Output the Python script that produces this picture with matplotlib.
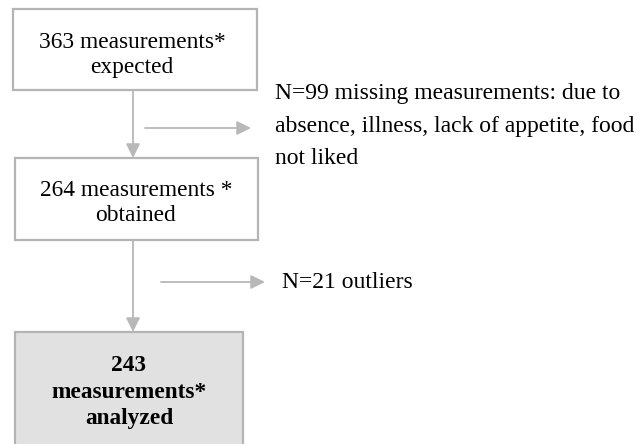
import matplotlib.pyplot as plt
from matplotlib.patches import Rectangle

plt.rcParams['font.family'] = ['Liberation Serif', 'DejaVu Serif']

# flowchart content
box_texts = ["363 measurements*\nexpected",
             "264 measurements *\nobtained",
             "243\nmeasurements*\nanalyzed"]
side_texts = ["N=99 missing measurements: due to\nabsence, illness, lack of appetite, food\nnot liked",
              "N=21 outliers"]

edge = '#b4b4b4'
line = '#b8b8b8'

fig = plt.figure(figsize=(6.41, 4.44), dpi=100)
ax = fig.add_axes([0, 0, 1, 1])
ax.set_xlim(0, 641)
ax.set_ylim(444, 0)
ax.axis('off')

# boxes: x0, y0, x1, y1 in pixels
boxes = [(13, 9, 257, 90), (15, 158, 258, 240), (15, 332, 243, 452)]
fills = ['white', 'white', '#e1e1e1']
for (x0, y0, x1, y1), fc in zip(boxes, fills):
    ax.add_patch(Rectangle((x0, y0), x1 - x0, y1 - y0, fc=fc, ec=edge, lw=1.6))

fs = 16.8
ax.text(132, 55, box_texts[0], ha='center', va='center', fontsize=fs, linespacing=1.28)
ax.text(136, 203, box_texts[1], ha='center', va='center', fontsize=fs, linespacing=1.28)
ax.text(129, 392, box_texts[2], ha='center', va='center', fontsize=fs,
        fontweight='bold', linespacing=1.35)

ap = dict(arrowstyle='-|>,head_length=0.85,head_width=0.42', color=line, lw=1.3,
          shrinkA=0, shrinkB=0)
# vertical arrows
ax.annotate('', xy=(133, 158), xytext=(133, 90), arrowprops=ap)
ax.annotate('', xy=(133, 332), xytext=(133, 240), arrowprops=ap)
# side arrows
ax.annotate('', xy=(251, 128), xytext=(145, 128), arrowprops=ap)
ax.annotate('', xy=(265, 282), xytext=(161, 282), arrowprops=ap)

fs2 = 17.0
ax.text(275, 126, side_texts[0], ha='left', va='center', fontsize=fs2, linespacing=1.72)
ax.text(282, 282, side_texts[1], ha='left', va='center', fontsize=fs2)

fig.savefig('out.png', dpi=100)
